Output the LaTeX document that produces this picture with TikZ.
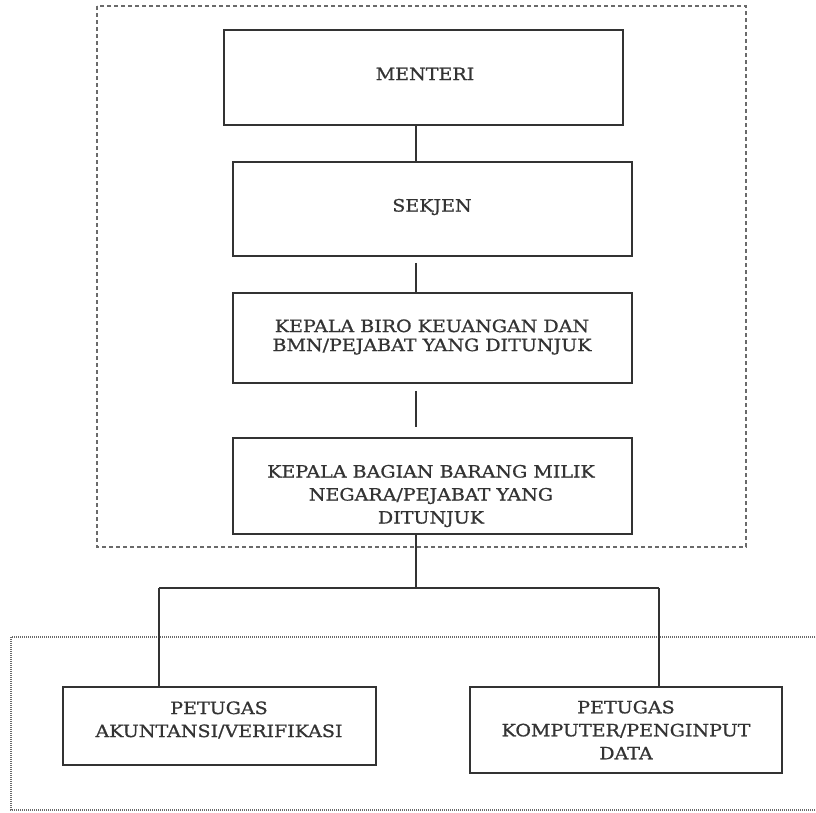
\documentclass[tikz,border=0pt]{standalone}
\usepackage{fontspec}
\setmainfont{DejaVu Serif}[FakeStretch=1.12, FakeBold=0.9]
\definecolor{ink}{HTML}{333333}
\definecolor{frame}{HTML}{6A6A6A}
\begin{document}
\begin{tikzpicture}[x=1pt,y=-1pt,
  orgbox/.style={draw=ink, line width=1.6pt, rectangle, inner sep=0pt},
  txt/.style={text=ink, align=center, inner sep=0pt, font=\fontsize{17}{19}\selectfont},
  txtwide/.style={txt, font=\fontsize{17}{23}\selectfont},
  link/.style={draw=ink, line width=1.5pt},
  outerdash/.style={draw=frame, line width=1.8pt, dash pattern=on 4pt off 3pt},
  outerdot/.style={draw=frame, line width=1.2pt, dash pattern=on 1pt off 1pt}]
\useasboundingbox (0,0) rectangle (816,812);
\clip (0,0) rectangle (816,812);
% frames
\draw[outerdash] (97,6) rectangle (746,547);
\draw[outerdot] (11,637) rectangle (830,810);
% boxes
\node[orgbox, minimum width=399pt, minimum height=95pt] (menteri) at (423.5,77.5) {};
\node[orgbox, minimum width=399pt, minimum height=94pt] (sekjen) at (432.5,209) {};
\node[orgbox, minimum width=399pt, minimum height=90pt] (biro) at (432.5,338) {};
\node[orgbox, minimum width=399pt, minimum height=96pt] (bagian) at (432.5,486) {};
\node[orgbox, minimum width=313pt, minimum height=78pt] (akun) at (219.5,726) {};
\node[orgbox, minimum width=312pt, minimum height=86pt] (komp) at (626,730) {};
% texts
\node[txt] (menteri-t) at (425,74) {MENTERI};
\node[txt] (sekjen-t) at (432,207) {SEKJEN};
\node[txt] (biro-t) at (432,337) {KEPALA BIRO KEUANGAN DAN\\BMN/PEJABAT YANG DITUNJUK};
\node[txtwide] (bagian-t) at (431,496) {KEPALA BAGIAN BARANG MILIK\\NEGARA/PEJABAT YANG\\DITUNJUK};
\node[txtwide] (akun-t) at (219,720) {PETUGAS\\AKUNTANSI/VERIFIKASI};
\node[txtwide] (komp-t) at (626,730) {PETUGAS\\KOMPUTER/PENGINPUT\\DATA};
% connectors
\coordinate (axis) at (416,0);
\coordinate (split) at (416,588);
\coordinate (lx) at (159,588);
\coordinate (rx) at (659,588);
\draw[link] (menteri.south -| axis) -- (sekjen.north -| axis);
\draw[link, shorten <=6pt] (sekjen.south -| axis) -- (biro.north -| axis);
\draw[link, shorten <=7pt, shorten >=10pt] (biro.south -| axis) -- (bagian.north -| axis);
\draw[link] (bagian.south -| axis) -- (split);
\draw[link] (lx) -- (rx);
\draw[link] (lx) -- (akun.north -| lx);
\draw[link] (rx) -- (komp.north -| rx);
\end{tikzpicture}
\end{document}
